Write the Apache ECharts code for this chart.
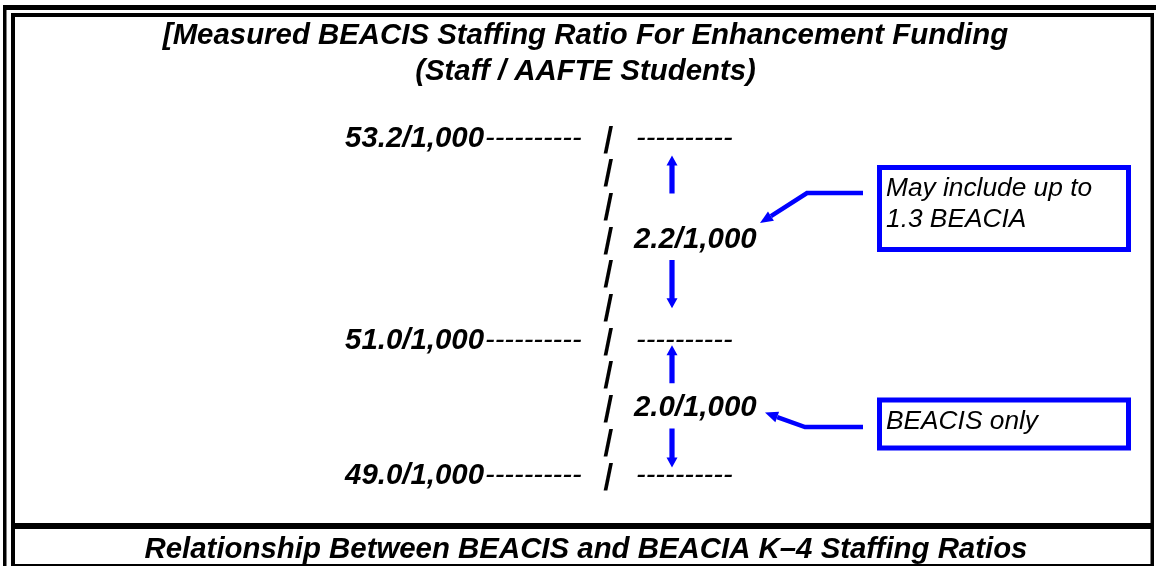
<!DOCTYPE html>
<html><head><meta charset="utf-8">
<script src="https://cdn.jsdelivr.net/npm/echarts@6/dist/echarts.min.js"></script>
<style>html,body{margin:0;padding:0;background:#fff}#c{width:1156px;height:566px}</style>
</head><body><div id="c"></div>
<script>
// ---- data ----
const titleLines = ['[Measured BEACIS Staffing Ratio For Enhancement Funding', '(Staff / AAFTE Students)'];
const footerText = 'Relationship Between BEACIS and BEACIA K\u20134 Staffing Ratios';
const levelLabels = ['53.2/1,000', '51.0/1,000', '49.0/1,000'];
const levelRows = [0, 6, 10];
const diffLabels = ['2.2/1,000', '2.0/1,000'];
const diffRows = [3, 8];
const calloutTexts = ['May include up to\n1.3 BEACIA', 'BEACIS only'];
const pipeRows = [0, 1, 2, 3, 4, 5, 6, 7, 8, 9, 10];
const dashText = '----------';
const pipeText = '|';

// ---- layout / style ----
const FAM = '"Liberation Sans", Arial, Helvetica, sans-serif';
const BLUE = '#0000ff';
const fontB = s => 'italic bold ' + s + 'px ' + FAM;
const fontR = s => 'italic ' + s + 'px ' + FAM;
const PIPE_FONT = 'bold 29px ' + FAM;
const TY = 1.5; // text baseline nudge
const L = {
  rowTop: 137, rowBottom: 474,
  labelEnd: 484, pipeX: 608.5, rightDash: 636, diffX: 634, arrowX: 672,
  callouts: [
    { tip: [760, -15], knee: [807, -45], end: 863, boxX: 879.5, boxW: 249, boxTop: -70.5, boxBottom: 11.5, textX: 886, textDy: -35 },
    { tip: [765, 6], knee: [805, 20.5], end: 863, boxX: 879.5, boxW: 249, boxTop: -6.5, boxBottom: 41.5, textX: 886, textDy: 14 }
  ]
};

function txt(x, y, text, font, align) {
  return { type: 'text', x: x, y: y + TY, style: { text: text, font: font, fill: '#000', align: align || 'left', verticalAlign: 'middle' } };
}
function vArrow(cx, tailY, tipY) {
  const s = tipY < tailY ? 1 : -1; // 1 = pointing up
  const hb = tipY + s * 10;
  return { type: 'polygon', shape: { points: [
    [cx - 2.6, tailY], [cx - 2.6, hb], [cx - 5.5, hb], [cx, tipY], [cx + 5.5, hb], [cx + 2.6, hb], [cx + 2.6, tailY]
  ] }, style: { fill: BLUE } };
}

const chart = echarts.init(document.getElementById('c'));
const frame = [
  [3, 5, 1153, 5], [3, 5, 3.5, 561], [11, 13, 1143, 4], [11, 13, 4, 553],
  [1150.5, 13, 3.5, 553], [11, 523, 1143, 6], [11, 564, 1143, 2]
].map(r => ({ type: 'rect', shape: { x: r[0], y: r[1], width: r[2], height: r[3] }, style: { fill: '#000' }, silent: true }));

const option = {
  animation: false,
  backgroundColor: '#fff',
  grid: { left: 0, right: 0, top: L.rowTop, height: L.rowBottom - L.rowTop },
  xAxis: { type: 'value', min: 0, max: 1156, show: false },
  yAxis: { type: 'value', min: 0, max: 10, inverse: true, show: false },
  graphic: frame.concat([
    { type: 'text', x: 585.5, y: 34 + TY, style: { text: titleLines[0], font: fontB(29.4), fill: '#000', align: 'center', verticalAlign: 'middle' } },
    { type: 'text', x: 585.5, y: 70 + TY, style: { text: titleLines[1], font: fontB(29.4), fill: '#000', align: 'center', verticalAlign: 'middle' } },
    { type: 'text', x: 586, y: 548 + TY, style: { text: footerText, font: fontB(29.4), fill: '#000', align: 'center', verticalAlign: 'middle' } }
  ]),
  series: [
    { // pipes
      type: 'custom', coordinateSystem: 'cartesian2d',
      data: pipeRows.map(r => [0, r]),
      renderItem: (p, api) => {
        const y = api.coord([0, api.value(1)])[1];
        const el = txt(api.coord([L.pipeX, 0])[0], y, pipeText, PIPE_FONT, 'center');
        el.skewX = -0.2;
        return el;
      }
    },
    { // level rows
      type: 'custom', coordinateSystem: 'cartesian2d',
      data: levelRows.map(r => [0, r]),
      renderItem: (p, api) => {
        const y = api.coord([0, api.value(1)])[1];
        const xe = api.coord([L.labelEnd, 0])[0];
        const xr = api.coord([L.rightDash, 0])[0];
        return { type: 'group', children: [
          txt(xe, y, levelLabels[p.dataIndex], fontB(29.4), 'right'),
          txt(xe + 1, y, dashText, fontR(29), 'left'),
          txt(xr, y, dashText, fontR(29), 'left')
        ] };
      }
    },
    { // differences, arrows, callouts
      type: 'custom', coordinateSystem: 'cartesian2d',
      data: diffRows.map((d, i) => [0, d, levelRows[i], levelRows[i + 1]]),
      renderItem: (p, api) => {
        const i = p.dataIndex;
        const yD = api.coord([0, api.value(1)])[1];
        const yT = api.coord([0, api.value(2)])[1];
        const yB = api.coord([0, api.value(3)])[1];
        const ax = api.coord([L.arrowX, 0])[0];
        const upC = yT + 0.37 * (yD - yT);
        const dnTail = yD + 22;
        const dnTip = dnTail + 20.5 + 0.273 * (yB - yD);
        const c = L.callouts[i];
        const T = [c.tip[0], yD + c.tip[1]], K = [c.knee[0], yD + c.knee[1]];
        const dx = T[0] - K[0], dy = T[1] - K[1], len = Math.hypot(dx, dy);
        const ux = dx / len, uy = dy / len, h = 13, w = 5.5;
        const B = [T[0] - ux * h, T[1] - uy * h];
        const nx = -uy, ny = ux;
        return { type: 'group', children: [
          txt(api.coord([L.diffX, 0])[0], yD, diffLabels[i], fontB(29.4), 'left'),
          vArrow(ax, upC + 19, upC - 19),
          vArrow(ax, dnTail, dnTip),
          { type: 'polyline', shape: { points: [[c.end, K[1]], K, B] }, style: { stroke: BLUE, lineWidth: 4.5, fill: null, lineJoin: 'miter' } },
          { type: 'polygon', shape: { points: [T, [B[0] + nx * w, B[1] + ny * w], [B[0] - nx * w, B[1] - ny * w]] }, style: { fill: BLUE } },
          { type: 'rect', shape: { x: c.boxX, y: yD + c.boxTop, width: c.boxW, height: c.boxBottom - c.boxTop }, style: { fill: '#fff', stroke: BLUE, lineWidth: 5 } },
          { type: 'text', x: c.textX, y: yD + c.textDy + TY, style: { text: calloutTexts[i], font: fontR(26.3), fill: '#000', align: 'left', verticalAlign: 'middle', lineHeight: 31 } }
        ] };
      }
    }
  ]
};
chart.setOption(option);
</script>
</body></html>
